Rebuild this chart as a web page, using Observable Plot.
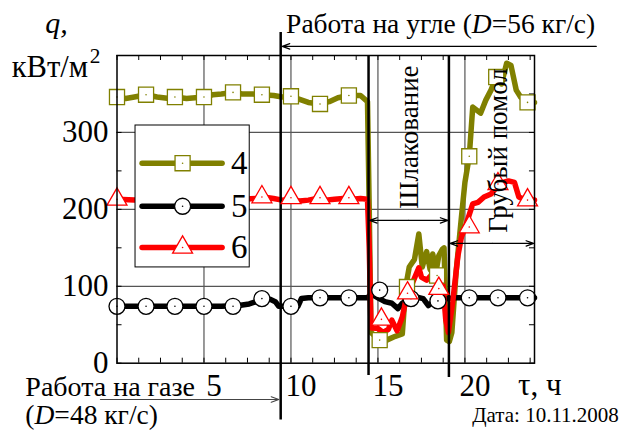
<!DOCTYPE html>
<html><head><meta charset="utf-8">
<script src="https://cdn.jsdelivr.net/npm/d3@7"></script>
<script src="https://cdn.jsdelivr.net/npm/@observablehq/plot@0.6"></script>
<style>body{margin:0;background:#fff} #chart svg{display:block} #chart svg text{font-family:"Liberation Serif","Times New Roman",serif !important}</style>
</head><body><div id="chart"></div>
<script>
// ---- data (time, h; q, kW/m2) ----
const t4 = [0,0.5,1,1.67,2.3,3,3.33,4,4.5,5,5.5,6,6.67,7.2,7.8,8.33,9,9.5,10,10.5,11,11.67,12.2,12.7,13.33,14,14.4,14.5,14.6,15,15.5,16,16.4,16.6,16.8,17.1,17.35,17.55,17.8,18.0,18.15,18.35,18.5,18.7,18.8,18.95,19.1,19.25,19.5,19.8,20.0,20.25,20.45,20.9,21.2,21.5,21.8,22.1,22.4,22.65,22.95,23.2,23.6,24];
const v4 = [346,344,346,349,346,344,346,344,345,346,349,350,352,350,350,349,348,346,347,343,339,337,340,345,348,348,340,200,40,32,30,35,38,100,125,135,168,125,145,122,142,120,140,148,150,30,28,40,120,190,235,269,333,325,342,355,372,363,390,387,355,346,339,339];
const t5 = [0,1,2,3,4,5,6,7,7.6,8.0,8.4,8.8,9.1,9.3,10,10.4,10.6,11,12,13,14,14.4,14.6,15,15.4,15.8,16.15,16.4,16.8,17.2,17.6,17.9,18.2,18.6,19,19.5,20,21,22,23,24];
const v5 = [74,74,74,74,74,74,74,75,77,80,84,83,80,74,74,74,84,85,85,85,85,85,90,85,80,78,71,78,84,86,84,75,80,82,84,85,85,85,85,85,85];
const t6 = [0,1,2,3,4,5,6,7,8,8.4,9,9.5,10,10.5,11,11.5,12,12.5,13,13.5,14,14.4,14.5,14.6,15,15.3,15.6,15.8,16.1,16.4,16.7,17.0,17.35,17.5,17.8,18.1,18.4,18.7,18.9,19.05,19.3,19.6,19.8,20.05,20.45,20.75,21.1,21.5,21.8,22.2,22.5,22.85,23.1,23.5,24];
const v6 = [213,212,213,212,213,212,213,213,214,216,214,212,213,211,212,214,212,213,214,213,214,213,150,46,45,40,44,56,42,60,92,105,124,112,108,115,110,112,56,40,80,140,164,179,207,209,216,220,228,235,237,235,216,212,212];
// marker positions
const m4t = [0,1.67,3.33,5,6.67,8.33,10,11.67,13.33,15.1,16.67,18.4,20.25,21.8,23.6];
const m4v = [346,349,346,346,352,349,347,337,348,30,99,114,269,372,339];
const m5t = [0,1.67,3.33,5,6.67,8.33,10,11.67,13.33,15.1,16.9,18.45,20.25,21.9,23.6];
const m5v = [74,74,74,74,74,84,74,85,85,95,84,81,85,85,85];
const m6t = [0,1.67,3.33,5,6.67,8.33,10,11.67,13.33,15.2,16.7,18.5,20.25,21.9,23.6];
const m6v = [213,213,213,213,213,216,215,215,215,57,91,97,177,233,212];
const seriesNames = ["4","5","6"];
const seriesColors = ["#808000","#000000","#ff0000"];
const seriesSymbols = ["square","circle","triangle"];
// axes
const xTickLabels = [5,10,15,20];
const yTickLabels = [0,100,200,300];
const xMinor = d3.range(0, 24.01, 1.25);
const yMinor = d3.range(0, 400.01, 50);

// ---- build tables ----
const zip = (t, v) => t.map((x, i) => ({t: x, v: v[i]}));
const lines = [zip(t4, v4), zip(t5, v5), zip(t6, v6)];
const markers = [zip(m4t, m4v), zip(m5t, m5v), zip(m6t, m6v)];
const markerR = [8.5, 8, 7.4];
const FONT = "Liberation Serif";

// annotation layout (data units)
const eventSpans = [{x: 9.41, y1: 430, y2: -74}, {x: 14.46, y1: 400, y2: -16}, {x: 19.08, y1: 400, y2: -18.6}];
const arrows = [
  {x1: 27.55, y1: 411.8, x2: 9.5, y2: 411.8, stroke: "black"},
  {x1: -0.95, y1: -47.2, x2: 9.3, y2: -47.2, stroke: "#444"},
  {x1: 16.75, y1: 185.6, x2: 14.52, y2: 185.6, stroke: "black"},
  {x1: 16.75, y1: 185.6, x2: 19.02, y2: 185.6, stroke: "black"},
  {x1: 21.6, y1: 155.7, x2: 19.15, y2: 155.7, stroke: "black"},
  {x1: 21.6, y1: 155.7, x2: 23.95, y2: 155.7, stroke: "black"}
];
const labels = [
  {x: 9.72, y: 428.8, text: "Работа на угле (D=56 кг/с)", size: 27.5, anchor: "start"},
  {x: -5.27, y: -42, text: "Работа на газе", size: 28, anchor: "start"},
  {x: -5.27, y: -78.4, text: "(D=48 кг/с)", size: 27.5, anchor: "start"},
  {x: 23.05, y: -41.5, text: "τ, ч", size: 31, anchor: "start"},
  {x: 28.85, y: -75.8, text: "Дата: 10.11.2008", size: 21, anchor: "end"},
  {x: -6.05, y: 371.6, text: "кВт/м²", size: 30.5, anchor: "start"}
];
const italicLabels = [{x: -4.12, y: 428.8, text: "q,", size: 30}];
const vertLabels = [
  {x: 16.78, y: 294, text: "Шлакование"},
  {x: 21.9, y: 276.6, text: "Грубый помол"}
];
const legendBox = {x1: 1.065, x2: 7.63, y1: 124.5, y2: 309};
const legendRows = [260, 204, 150.5];
const legend = seriesNames.map((n, i) => ({name: n, y: legendRows[i], x1: 1.47, x2: 6.07, xm: 3.77, xl: 6.55}));

const marks = [
  Plot.ruleX(xTickLabels, {stroke: "#555", strokeWidth: 1.2}),
  Plot.ruleY(yTickLabels.slice(1), {stroke: "#555", strokeWidth: 1.2}),
  Plot.ruleX(xMinor, {y1: 0, y2: 6.5, stroke: "black"}),
  Plot.ruleX(xMinor, {y1: 400, y2: 393.5, stroke: "black"}),
  Plot.ruleY(yMinor, {x1: 0, x2: 0.29, stroke: "black"}),
  Plot.ruleY(yMinor, {x1: 24, x2: 23.71, stroke: "black"}),
];
lines.forEach((d, i) => marks.push(Plot.line(d, {x: "t", y: "v", stroke: seriesColors[i], strokeWidth: 5.5, strokeLinejoin: "round"})));
marks.push(Plot.ruleX(eventSpans, {x: "x", y1: "y1", y2: "y2", stroke: "black", strokeWidth: 2.5}));
markers.forEach((d, i) => {
  marks.push(Plot.dot(d, {x: "t", y: "v", symbol: seriesSymbols[i], r: markerR[i], fill: "white", stroke: seriesColors[i], strokeWidth: 1.3}));
  marks.push(Plot.dot(d, {x: "t", y: "v", r: 0.8, fill: seriesColors[i]}));
});
marks.push(
  Plot.frame({stroke: "black", strokeWidth: 1.5}),
  Plot.arrow(arrows, {x1: "x1", y1: "y1", x2: "x2", y2: "y2", stroke: "stroke", strokeWidth: 1.2, headLength: 10, headAngle: 40}),
  Plot.text(yTickLabels, {x: -0.49, y: d => d, text: d => String(d), textAnchor: "end", lineAnchor: "middle", fontSize: 31, fontFamily: FONT}),
  Plot.text(xTickLabels, {x: d => d, y: -43, text: d => String(d), dx: 10, textAnchor: "middle", lineAnchor: "bottom", fontSize: 31, fontFamily: FONT}),
  ...labels.map(l => Plot.text([l], {x: "x", y: "y", text: "text", textAnchor: l.anchor, lineAnchor: "bottom", fontSize: l.size, fontFamily: FONT})),
  Plot.text(italicLabels, {x: "x", y: "y", text: "text", textAnchor: "start", lineAnchor: "bottom", fontSize: 30, fontStyle: "italic", fontFamily: FONT}),
  Plot.text(vertLabels, {x: "x", y: "y", text: "text", rotate: -90, textAnchor: "middle", lineAnchor: "middle", fontSize: 27, fontFamily: FONT}),
  // legend
  Plot.rect([legendBox], {x1: "x1", x2: "x2", y1: "y1", y2: "y2", fill: "white", stroke: "black", strokeWidth: 1}),
  Plot.ruleY(legend, {y: "y", x1: "x1", x2: "x2", stroke: (d, i) => seriesColors[i], strokeWidth: 5.5, strokeLinecap: "round"}),
  ...legend.map((l, i) => Plot.dot([l], {x: "xm", y: "y", symbol: seriesSymbols[i], r: markerR[i], fill: "white", stroke: seriesColors[i], strokeWidth: 1.3})),
  ...legend.map((l, i) => Plot.dot([l], {x: "xm", y: "y", r: 0.8, fill: seriesColors[i]})),
  Plot.text(legend, {x: "xl", y: "y", text: "name", textAnchor: "start", lineAnchor: "middle", fontSize: 33, fontFamily: FONT})
);

const chart = Plot.plot({
  width: 620, height: 432,
  marginLeft: 116.5, marginRight: 86, marginTop: 55, marginBottom: 69.3,
  x: {domain: [0, 24], axis: null},
  y: {domain: [0, 400], axis: null},
  color: {type: "identity"},
  style: {fontFamily: FONT, background: "white", color: "black", overflow: "visible"},
  marks
});
// italic D in the flow-rate labels; raised 2 in the unit
d3.select(chart).selectAll("text").each(function() {
  const s = this.textContent;
  if (this.childElementCount !== 0) return;
  const k = s.indexOf("D=");
  const el = d3.select(this);
  if (k >= 0) {
    el.text(null);
    el.append("tspan").text(s.slice(0, k));
    el.append("tspan").attr("font-style", "italic").text("D");
    el.append("tspan").text(s.slice(k + 1));
  } else if (s.endsWith("²")) {
    el.text(null);
    el.append("tspan").text(s.slice(0, -1));
    el.append("tspan").attr("font-size", "0.7em").attr("dy", "-0.66em").attr("dx", "0.08em").text("2");
  }
});
document.getElementById("chart").appendChild(chart);
</script>
</body></html>
